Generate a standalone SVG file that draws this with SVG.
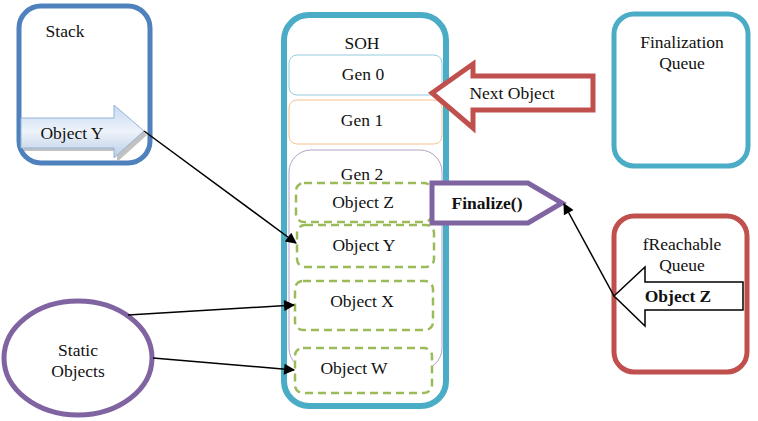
<svg xmlns="http://www.w3.org/2000/svg" width="758" height="421" viewBox="0 0 758 421">
<style>
text{font-family:"Liberation Serif","Times New Roman","DejaVu Serif",serif;font-size:17.5px;fill:#111;text-anchor:middle}
.b{font-weight:bold}
.dash{fill:#fff;stroke:#9bbb59;stroke-width:2.5;stroke-dasharray:8 5}
.con{stroke:#000;stroke-width:1.5;fill:none}
</style>
<defs>
<marker id="ah2" viewBox="0 0 10 10" refX="9" refY="5" markerWidth="13" markerHeight="11" markerUnits="userSpaceOnUse" orient="auto"><path d="M0,0 L10,5 L0,10 z" fill="#000"/></marker>
<linearGradient id="bg" x1="0" y1="0" x2="0" y2="1"><stop offset="0" stop-color="#c6d9f1"/><stop offset="0.5" stop-color="#eef3fa"/><stop offset="1" stop-color="#b9cde5"/></linearGradient>
</defs>
<rect width="758" height="421" fill="#fff"/>
<g id="stack">
<rect x="19" y="6" width="131" height="157" rx="22" fill="#fff" stroke="#4f81bd" stroke-width="5"/>
<text x="65" y="37" font-family="Liberation Serif, serif">Stack</text>
<path d="M24,121 H117 V108 L147,135 L117,162 V151 H24 z" fill="#a6a6a6" opacity="0.7"/>
<path d="M21,118 H114 V105 L144,131 L114,158 V148 H21 z" fill="url(#bg)" stroke="#95b3d7" stroke-width="1"/>
<text x="72" y="139" font-family="Liberation Serif, serif">Object Y</text>
</g>
<g id="soh">
<rect x="284" y="15" width="162" height="391" rx="25" fill="#fff" stroke="#4bacc6" stroke-width="6"/>
<text x="362" y="49" font-family="Liberation Serif, serif">SOH</text>
<rect x="289" y="55" width="153" height="40" rx="8" fill="#fff" stroke="#93cddd" stroke-width="1"/>
<text x="363" y="80" font-family="Liberation Serif, serif">Gen 0</text>
<rect x="289" y="100" width="153" height="44" rx="8" fill="#fff" stroke="#fac090" stroke-width="1"/>
<text x="362" y="126" font-family="Liberation Serif, serif">Gen 1</text>
<rect x="289" y="150" width="153" height="220" rx="22" fill="#fff" stroke="#b3a2c7" stroke-width="1"/>
<text x="362" y="180" font-family="Liberation Serif, serif">Gen 2</text>
</g>
<g id="objZ"><rect class="dash" x="296" y="183" width="136" height="39" rx="8"/><text x="363" y="208" font-family="Liberation Serif, serif">Object Z</text></g>
<g id="objY"><rect class="dash" x="297" y="225" width="137" height="42" rx="8"/><text x="364" y="251" font-family="Liberation Serif, serif">Object Y</text></g>
<g id="objX"><rect class="dash" x="295" y="281" width="138" height="49" rx="8"/><text x="362" y="307" font-family="Liberation Serif, serif">Object X</text></g>
<g id="objW"><rect class="dash" x="295" y="348" width="137" height="45" rx="8"/><text x="354" y="374" font-family="Liberation Serif, serif">Object W</text></g>
<g id="nextObject">
<path d="M432,93 L473,64 V76 H593 V110 H473 V128 z" fill="#fff" stroke="#c0504d" stroke-width="5" stroke-linejoin="miter"/>
<text x="512" y="99" font-family="Liberation Serif, serif">Next Object</text>
</g>
<g id="finalize">
<path d="M432,183 H528 L562,203 L528,223 H432 z" fill="#fff" stroke="#8064a2" stroke-width="5"/>
<text class="b" x="487" y="209" font-family="Liberation Serif, serif">Finalize()</text>
</g>
<g id="finalizationQueue">
<rect x="614" y="14" width="134" height="152" rx="20" fill="#fff" stroke="#4bacc6" stroke-width="5"/>
<text x="682" y="48" font-family="Liberation Serif, serif">Finalization</text>
<text x="682" y="69" font-family="Liberation Serif, serif">Queue</text>
</g>
<g id="freachable">
<rect x="614" y="216" width="133" height="156" rx="20" fill="#fff" stroke="#c0504d" stroke-width="5"/>
<text x="682" y="250" font-family="Liberation Serif, serif">fReachable</text>
<text x="682" y="271" font-family="Liberation Serif, serif">Queue</text>
<path d="M614,296 L645,267 V282 H743 V310 H645 V326 z" fill="#fff" stroke="#000" stroke-width="1.5"/>
<text class="b" x="678" y="302" font-family="Liberation Serif, serif">Object Z</text>
</g>
<g id="static">
<ellipse cx="78" cy="358" rx="74" ry="57" fill="#fff" stroke="#8064a2" stroke-width="5"/>
<text x="78" y="356" font-family="Liberation Serif, serif">Static</text>
<text x="78" y="377" font-family="Liberation Serif, serif">Objects</text>
</g>
<g id="connectors">
<line class="con" x1="144" y1="131" x2="296" y2="243" marker-end="url(#ah2)"/>
<line class="con" x1="128" y1="315" x2="294" y2="305" marker-end="url(#ah2)"/>
<line class="con" x1="153" y1="358" x2="294" y2="370" marker-end="url(#ah2)"/>
<line class="con" x1="614" y1="296" x2="564" y2="204" marker-end="url(#ah2)"/>
</g>
</svg>
